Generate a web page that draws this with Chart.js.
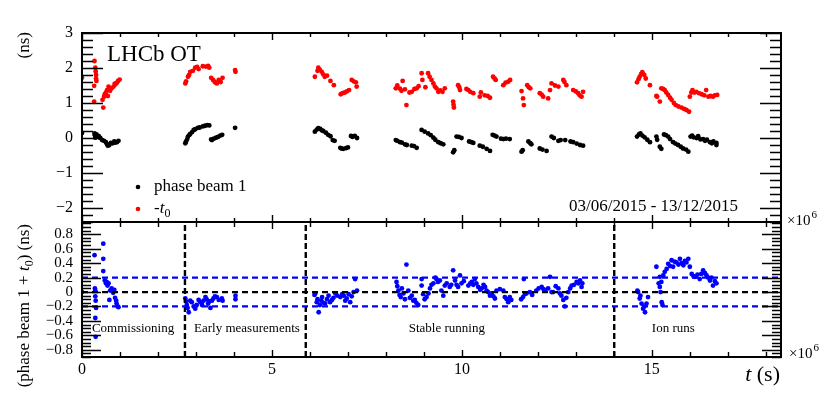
<!DOCTYPE html>
<html>
<head>
<meta charset="utf-8">
<script src="https://cdn.jsdelivr.net/npm/chart.js@4/dist/chart.umd.min.js"></script>
<style>
  html, body { margin: 0; padding: 0; background: #fff; }
  #wrap { position: relative; width: 822px; height: 396px; }
  canvas { position: absolute; left: 0; top: 0; }
</style>
</head>
<body>
<div id="wrap">
  <canvas id="topPanel" width="822" height="396"></canvas>
  <canvas id="bottomPanel" width="822" height="396"></canvas>
</div>
<script>
// time axis in units of 1e6 s
const xMin = 0, xMax = 18.4;
const xLabelTicks = [0, 5, 10, 15];
const topRange = [-2.4, 3];
const bottomRange = [-0.9, 0.97];
const bandLevels = [0.2, 0, -0.2];
const bandColors = ['#0000ff', '#000000', '#0000ff'];
const periodEdges = [2.71, 5.89, 14.01];
const periodNames = ['Commissioning', 'Early measurements', 'Stable running', 'Ion runs'];
const periodLabelX = [0.26, 2.95, 8.6, 15.0];

// phase beam 1 (ns)
const phaseBeam1 = [
  [0.0,0.14],
  [0.33,0.13],[0.34,0.08],[0.35,0.01],[0.38,0.1],[0.42,0.06],[0.44,0.05],[0.48,0.0],[0.53,-0.06],[0.58,-0.08],
  [0.63,-0.12],[0.66,-0.18],[0.68,-0.22],[0.72,-0.2],[0.76,-0.14],[0.81,-0.15],[0.85,-0.1],[0.88,-0.13],[0.92,-0.12],[0.96,-0.08],
  [2.72,-0.15],[2.74,-0.1],[2.77,-0.03],[2.79,0.04],[2.83,0.09],[2.85,0.12],[2.9,0.17],[2.94,0.23],[2.98,0.25],[3.05,0.29],
  [3.1,0.3],[3.18,0.33],[3.24,0.35],[3.3,0.37],[3.35,0.36],[3.4,-0.04],[3.42,-0.06],[3.47,-0.02],[3.53,0.01],[3.58,0.03],
  [3.64,0.07],[3.69,0.09],[4.03,0.29],
  [6.13,0.18],[6.18,0.24],[6.22,0.28],[6.27,0.26],[6.31,0.22],[6.35,0.2],[6.42,0.15],[6.48,0.09],[6.54,0.05],[6.6,-0.06],
  [6.65,-0.08],[6.8,-0.28],[6.83,-0.3],[6.88,-0.31],[6.95,-0.29],[7.0,-0.27],[7.08,0.06],[7.12,0.03],[7.18,0.06],[7.24,0.0],
  [8.26,-0.06],[8.3,-0.08],[8.37,-0.12],[8.42,-0.13],[8.5,-0.18],[8.55,-0.2],[8.68,-0.22],[8.74,-0.23],[8.81,-0.28],[8.94,0.23],
  [9.02,0.18],[9.11,0.13],[9.18,0.08],[9.25,0.01],[9.3,-0.05],[9.38,-0.12],[9.44,-0.15],[9.51,-0.18],[9.77,-0.41],[9.8,-0.35],
  [9.86,0.04],[9.92,0.03],[9.99,0.0],[10.19,-0.1],[10.25,-0.12],[10.3,-0.14],[10.47,-0.22],[10.55,-0.25],[10.65,-0.31],[10.74,-0.37],
  [10.81,0.09],[10.86,0.07],[10.91,0.04],[11.03,-0.02],[11.09,-0.03],[11.16,-0.02],[11.26,-0.03],[11.57,-0.39],[11.6,-0.35],[11.75,-0.1],
  [11.8,-0.15],[11.83,-0.18],[12.05,-0.3],[12.12,-0.33],[12.23,-0.37],[12.36,0.04],[12.42,0.0],[12.54,-0.08],[12.6,-0.06],[12.72,-0.06],
  [12.86,-0.1],[12.93,-0.12],[13.02,-0.16],[13.11,-0.2],[13.19,-0.22],
  [14.61,0.04],[14.66,0.1],[14.7,0.13],[14.75,0.07],[14.81,0.02],[14.88,-0.05],[14.95,-0.12],[15.12,0.04],[15.14,-0.05],[15.21,-0.25],
  [15.25,-0.31],[15.32,0.1],[15.37,0.08],[15.43,0.04],[15.48,-0.03],[15.56,-0.12],[15.62,-0.16],[15.69,-0.2],[15.76,-0.25],[15.82,-0.3],
  [15.9,-0.33],[15.96,-0.39],[16.02,0.04],[16.06,0.07],[16.1,0.02],[16.18,0.0],[16.22,0.05],[16.28,-0.04],[16.35,-0.03],[16.4,-0.08],
  [16.45,-0.05],[16.53,-0.12],[16.58,-0.15],[16.62,-0.1],[16.7,-0.2],[16.7,-0.14]
];

// -t0 (ns)
const minusT0 = [
  [0.0,1.72],[0.33,2.2],[0.35,2.01],[0.36,1.9],[0.37,1.8],[0.37,1.7],[0.38,1.63],[0.32,1.49],[0.32,1.04],[0.56,0.87],
  [0.54,1.09],[0.58,1.18],[0.6,1.25],[0.63,1.3],[0.66,1.37],[0.68,1.2],[0.7,1.47],[0.74,1.35],[0.78,1.42],[0.83,1.47],
  [0.86,1.55],[0.88,1.53],[0.92,1.58],[0.95,1.63],[0.99,1.67],
  [2.72,1.56],[2.74,1.62],[2.79,1.75],[2.82,1.8],[2.85,1.89],[2.92,1.92],[2.98,2.01],[3.03,2.03],[3.07,1.97],[3.18,2.05],
  [3.26,2.04],[3.32,2.06],[3.35,2.01],[3.4,1.72],[3.45,1.66],[3.49,1.61],[3.52,1.58],[3.55,1.56],[3.6,1.66],[3.65,1.6],
  [3.7,1.72],[4.03,1.94],[4.04,1.89],
  [6.13,1.75],[6.2,1.92],[6.22,2.01],[6.26,1.95],[6.31,1.89],[6.35,1.82],[6.39,1.75],[6.45,1.78],[6.54,1.63],[6.63,1.51],
  [6.81,1.25],[6.86,1.28],[6.92,1.3],[6.97,1.33],[7.03,1.37],[7.1,1.66],[7.15,1.62],[7.21,1.59],[7.23,1.47],
  [8.26,1.42],[8.3,1.5],[8.37,1.41],[8.41,1.35],[8.44,1.63],[8.5,1.39],[8.54,0.94],[8.62,1.3],[8.68,1.32],[8.75,1.4],
  [8.81,1.42],[8.86,1.48],[8.94,1.85],[8.96,1.66],[9.04,1.45],[9.11,1.85],[9.15,1.75],[9.2,1.66],[9.25,1.56],[9.29,1.47],
  [9.33,1.42],[9.38,1.32],[9.43,1.36],[9.49,1.32],[9.55,1.42],[9.77,1.04],[9.78,0.95],[9.79,0.87],[9.9,1.51],[9.93,1.45],
  [9.95,1.37],[10.12,1.4],[10.17,1.37],[10.22,1.32],[10.3,1.28],[10.47,1.18],[10.5,1.3],[10.6,1.22],[10.68,1.2],[10.74,1.15],
  [10.82,1.75],[10.86,1.7],[10.89,1.66],[11.09,1.51],[11.15,1.58],[11.22,1.61],[11.27,1.66],[11.57,1.34],[11.61,1.13],[11.63,0.94],
  [11.72,1.51],[11.76,1.45],[11.8,1.42],[12.05,1.28],[12.1,1.24],[12.14,1.18],[12.27,1.13],[12.32,1.37],[12.36,1.56],[12.45,1.5],
  [12.54,1.47],[12.67,1.66],[12.7,1.6],[12.75,1.51],[12.93,1.37],[13.0,1.33],[13.06,1.28],[13.1,1.22],[13.15,1.18],[13.19,1.32],
  [14.61,1.59],[14.65,1.68],[14.68,1.75],[14.72,1.83],[14.75,1.88],[14.8,1.8],[14.84,1.7],[14.95,1.51],[15.12,1.2],[15.14,1.18],
  [15.21,1.04],[15.25,1.42],[15.3,1.4],[15.34,1.37],[15.38,1.3],[15.43,1.23],[15.48,1.15],[15.52,1.09],[15.58,1.0],[15.63,0.94],
  [15.7,0.9],[15.78,0.87],[15.85,0.83],[15.91,0.8],[15.98,0.75],[16.0,1.18],[16.04,1.3],[16.07,1.37],[16.12,1.3],[16.17,1.32],
  [16.24,1.28],[16.31,1.25],[16.38,1.22],[16.43,1.37],[16.49,1.18],[16.55,1.2],[16.61,1.18],[16.66,1.22],[16.72,1.23]
];

// phase beam 1 + t0 (ns)
const phasePlusT0 = [
  [0.0,0.0],[0.33,0.51],[0.34,0.05],[0.35,0.02],[0.35,-0.06],[0.36,-0.12],[0.37,-0.22],[0.35,-0.36],[0.36,-0.62],[0.56,0.67],
  [0.56,0.46],[0.56,0.29],[0.6,0.16],[0.63,0.12],[0.65,0.14],[0.67,0.09],[0.7,0.12],[0.72,-0.11],[0.74,0.02],[0.78,0.05],
  [0.82,-0.01],[0.85,0.03],[0.87,-0.08],[0.9,-0.12],[0.91,-0.16],[0.94,-0.2],[0.96,-0.21],
  [2.72,-0.09],[2.74,-0.13],[2.76,-0.18],[2.78,-0.22],[2.81,-0.28],[2.85,-0.12],[2.89,-0.14],[2.94,-0.2],[2.98,-0.23],[3.02,-0.18],
  [3.07,-0.11],[3.12,-0.14],[3.16,-0.18],[3.2,-0.12],[3.25,-0.07],[3.28,-0.1],[3.32,-0.16],[3.35,-0.13],[3.38,-0.22],[3.42,-0.12],
  [3.46,-0.09],[3.5,-0.06],[3.55,-0.07],[3.6,-0.11],[3.68,-0.09],[3.7,-0.12],[4.04,-0.05],[4.04,-0.1],
  [6.12,-0.04],[6.14,-0.02],[6.18,-0.14],[6.2,-0.1],[6.23,-0.28],[6.26,-0.18],[6.3,-0.12],[6.32,-0.07],[6.36,-0.15],[6.4,-0.16],
  [6.45,-0.1],[6.49,-0.05],[6.53,-0.14],[6.58,-0.11],[6.62,-0.08],[6.67,-0.02],[6.72,-0.05],[6.8,-0.07],[6.85,-0.03],[6.89,-0.05],
  [6.93,-0.12],[6.97,-0.09],[7.02,-0.03],[7.06,-0.14],[7.1,-0.06],[7.15,0.0],[7.19,0.18],[7.24,0.02],
  [8.28,0.14],[8.3,0.08],[8.33,0.02],[8.36,-0.04],[8.39,-0.07],[8.42,0.05],[8.46,-0.02],[8.5,-0.1],[8.54,0.38],[8.59,0.02],
  [8.63,-0.08],[8.68,-0.05],[8.72,-0.12],[8.76,-0.11],[8.8,-0.15],[8.85,-0.18],[8.94,0.18],[8.94,0.09],[8.98,-0.03],[9.02,-0.1],
  [9.07,-0.07],[9.12,-0.02],[9.16,0.05],[9.2,0.1],[9.25,0.12],[9.3,0.2],[9.33,0.18],[9.37,0.14],[9.42,0.16],[9.46,0.02],
  [9.51,-0.05],[9.55,0.09],[9.6,0.12],[9.68,0.07],[9.72,0.1],[9.77,0.3],[9.82,0.16],[9.86,0.1],[9.9,0.07],[9.95,0.23],
  [9.99,0.12],[10.05,0.15],[10.17,0.09],[10.22,0.12],[10.26,0.14],[10.3,0.1],[10.34,0.18],[10.38,0.12],[10.43,0.07],[10.48,0.03],
  [10.52,0.05],[10.57,0.1],[10.61,0.07],[10.65,0.02],[10.69,0.0],[10.74,-0.05],[10.78,-0.02],[10.83,-0.06],[10.87,-0.09],[10.91,0.02],
  [11.0,0.04],[11.09,0.02],[11.13,-0.07],[11.18,-0.1],[11.22,-0.14],[11.26,-0.07],[11.3,-0.11],[11.56,-0.1],[11.61,-0.07],[11.63,0.18],
  [11.66,-0.03],[11.7,-0.02],[11.79,0.0],[11.85,-0.04],[11.96,0.02],[12.02,0.05],[12.1,0.07],[12.15,0.04],[12.19,0.02],[12.27,0.05],
  [12.32,0.21],[12.36,0.0],[12.4,0.0],[12.47,0.08],[12.54,0.05],[12.58,-0.02],[12.62,-0.05],[12.67,-0.11],[12.71,-0.2],[12.75,-0.08],
  [12.8,0.0],[12.85,0.05],[12.89,0.09],[12.95,0.1],[13.02,0.14],[13.06,0.12],[13.11,0.16],[13.15,0.07],[13.17,0.12],
  [14.62,0.02],[14.64,0.0],[14.68,-0.09],[14.7,-0.05],[14.73,-0.16],[14.77,-0.23],[14.8,-0.2],[14.82,-0.28],[14.86,-0.16],[14.9,-0.07],
  [15.12,0.35],[15.18,0.12],[15.21,0.07],[15.21,0.21],[15.23,0.0],[15.25,0.14],[15.26,-0.14],[15.28,-0.18],[15.3,0.23],[15.34,0.28],
  [15.39,0.32],[15.43,0.39],[15.48,0.36],[15.52,0.44],[15.56,0.35],[15.6,0.42],[15.65,0.41],[15.7,0.38],[15.74,0.46],[15.78,0.4],
  [15.83,0.37],[15.87,0.43],[15.91,0.41],[15.96,0.46],[16.0,0.35],[16.05,0.25],[16.1,0.22],[16.14,0.21],[16.2,0.24],[16.26,0.18],
  [16.3,0.25],[16.35,0.3],[16.4,0.26],[16.44,0.23],[16.48,0.2],[16.53,0.16],[16.57,0.2],[16.61,0.09],[16.66,0.15],[16.7,0.12]
];

const SERIF = '"Liberation Serif", "DejaVu Serif", serif';
const toXY = arr => arr.map(([x, y]) => ({ x, y }));
const minus = s => String(s).replace('-', '\u2212');

// ROOT-style frame with inward ticks
function drawFrame(chart, o) {
  const { ctx, chartArea: a, scales: { x, y } } = chart;
  ctx.save();
  ctx.strokeStyle = '#000';
  ctx.lineWidth = 1.4;
  ctx.beginPath();
  for (let k = 0; k <= Math.floor(xMax); k++) {
    const px = Math.round(x.getPixelForValue(k)) + 0.5;
    const len = k % 5 === 0 ? o.xMajor : o.xMinor;
    ctx.moveTo(px, a.top); ctx.lineTo(px, a.top + len);
    ctx.moveTo(px, a.bottom); ctx.lineTo(px, a.bottom - len);
  }
  const k0 = Math.ceil(y.min / o.yStep - 1e-6), k1 = Math.floor(y.max / o.yStep + 1e-6);
  for (let k = k0; k <= k1; k++) {
    const py = Math.round(y.getPixelForValue(k * o.yStep)) + 0.5;
    const len = k % o.perMajor === 0 ? o.yMajor : o.yMinor;
    ctx.moveTo(a.left, py); ctx.lineTo(a.left + len, py);
    ctx.moveTo(a.right, py); ctx.lineTo(a.right - len, py);
  }
  ctx.stroke();
  ctx.lineWidth = 2;
  ctx.strokeRect(a.left, a.top, a.right - a.left, a.bottom - a.top);
  ctx.restore();
}

// draw a list of text runs; rotated = vertical (reading upward)
function drawRuns(ctx, runs, x, y, align, rotated) {
  ctx.save();
  ctx.translate(x, y);
  if (rotated) ctx.rotate(-Math.PI / 2);
  ctx.textBaseline = 'alphabetic';
  ctx.textAlign = 'left';
  ctx.fillStyle = '#000';
  let total = 0;
  runs.forEach(r => { ctx.font = r.font; total += ctx.measureText(r.text).width; });
  let cx = align === 'right' ? -total : 0;
  runs.forEach(r => {
    ctx.font = r.font;
    ctx.fillText(r.text, cx, r.dy || 0);
    cx += ctx.measureText(r.text).width;
  });
  ctx.restore();
}

function times10(ctx, x, y) {
  drawRuns(ctx, [{ text: '\u00d710', font: '15px ' + SERIF }], x, y);
  ctx.save();
  ctx.font = '15px ' + SERIF;
  const w = ctx.measureText('\u00d710').width;
  ctx.restore();
  drawRuns(ctx, [{ text: '6', font: '11px ' + SERIF }], x + w + 1, y - 7);
}

const topDecor = {
  id: 'topDecor',
  afterDatasetsDraw(chart) {
    drawFrame(chart, { xMajor: 7, xMinor: 4, yStep: 0.2, perMajor: 5, yMajor: 21, yMinor: 11 });
  },
  afterDraw(chart) {
    const ctx = chart.ctx;
    drawRuns(ctx, [{ text: 'LHCb OT', font: '23px ' + SERIF }], 107, 61);
    drawRuns(ctx, [{ text: '03/06/2015 - 13/12/2015', font: '17px ' + SERIF }], 738, 211, 'right');
    // legend
    ctx.save();
    ctx.fillStyle = '#000';
    ctx.beginPath(); ctx.arc(138, 187, 2.3, 0, Math.PI * 2); ctx.fill();
    ctx.fillStyle = '#ff0000';
    ctx.beginPath(); ctx.arc(138, 209, 2.3, 0, Math.PI * 2); ctx.fill();
    ctx.restore();
    drawRuns(ctx, [{ text: 'phase beam 1', font: '17px ' + SERIF }], 154, 191);
    drawRuns(ctx, [
      { text: '-', font: '17px ' + SERIF },
      { text: 't', font: 'italic 17px ' + SERIF },
      { text: '0', font: '12px ' + SERIF, dy: 4 }
    ], 154, 213);
    drawRuns(ctx, [{ text: '(ns)', font: '17px ' + SERIF }], 29, 32, 'right', true);
    times10(ctx, 787, 225);
  }
};

const bottomDecor = {
  id: 'bottomDecor',
  afterDatasetsDraw(chart) {
    drawFrame(chart, { xMajor: 7, xMinor: 5, yStep: 0.05, perMajor: 4, yMajor: 19, yMinor: 9 });
  },
  afterDraw(chart) {
    const ctx = chart.ctx;
    const x = chart.scales.x;
    periodNames.forEach((name, i) => {
      drawRuns(ctx, [{ text: name, font: '13px ' + SERIF }], x.getPixelForValue(periodLabelX[i]), 332);
    });
    drawRuns(ctx, [
      { text: '(phase beam 1 + ', font: '17px ' + SERIF },
      { text: 't', font: 'italic 17px ' + SERIF },
      { text: '0', font: '12px ' + SERIF, dy: 4 },
      { text: ') (ns)', font: '17px ' + SERIF }
    ], 29, 224, 'right', true);
    drawRuns(ctx, [
      { text: 't', font: 'italic 22px ' + SERIF },
      { text: ' (s)', font: '22px ' + SERIF }
    ], 780, 381, 'right');
    times10(ctx, 789, 358);
  }
};

const pointStyle = color => ({
  type: 'scatter', backgroundColor: color, borderColor: color,
  pointRadius: 2.4, pointBorderWidth: 0, pointHoverRadius: 2.4
});

new Chart(document.getElementById('topPanel'), {
  data: {
    datasets: [
      { label: 'phase beam 1', data: toXY(phaseBeam1), ...pointStyle('#000000') },
      { label: '-t0', data: toXY(minusT0), ...pointStyle('#ff0000') }
    ]
  },
  options: {
    responsive: false, animation: false,
    layout: { padding: { top: 33, right: 41, bottom: 174, left: 0 } },
    plugins: { legend: { display: false }, tooltip: { enabled: false } },
    scales: {
      x: { type: 'linear', min: xMin, max: xMax, display: false },
      y: {
        type: 'linear', min: topRange[0], max: topRange[1],
        afterFit: s => { s.width = 82; },
        grid: { display: false, drawTicks: false }, border: { display: false },
        ticks: { stepSize: 1, includeBounds: false, autoSkip: false, padding: 9, color: '#000',
                 font: { family: SERIF, size: 16 }, callback: v => minus(v) }
      }
    }
  },
  plugins: [topDecor]
});

const refLines = [
  ...bandLevels.map((lvl, i) => ({
    type: 'line', data: [{ x: xMin, y: lvl }, { x: xMax, y: lvl }],
    borderColor: bandColors[i], borderWidth: 2.2, borderDash: [6, 4], pointRadius: 0, order: 0
  })),
  ...periodEdges.map(e => ({
    type: 'line', data: [{ x: e, y: bottomRange[0] }, { x: e, y: bottomRange[1] }],
    borderColor: '#000000', borderWidth: 2.4, borderDash: [6, 3], pointRadius: 0, order: 0
  }))
];

new Chart(document.getElementById('bottomPanel'), {
  data: {
    datasets: [
      ...refLines,
      { label: 'phase beam 1 + t0', data: toXY(phasePlusT0), order: 1, ...pointStyle('#0000ff') }
    ]
  },
  options: {
    responsive: false, animation: false,
    layout: { padding: { top: 222, right: 41, bottom: 0, left: 0 } },
    plugins: { legend: { display: false }, tooltip: { enabled: false } },
    scales: {
      x: {
        type: 'linear', min: xMin, max: xMax,
        afterFit: s => { s.height = 39; },
        afterBuildTicks: s => { s.ticks = xLabelTicks.map(v => ({ value: v })); },
        grid: { display: false, drawTicks: false }, border: { display: false },
        ticks: { padding: 3, autoSkip: false, color: '#000', font: { family: SERIF, size: 16 }, maxRotation: 0,
                 callback: v => String(v) }
      },
      y: {
        type: 'linear', min: bottomRange[0], max: bottomRange[1],
        afterFit: s => { s.width = 82; },
        grid: { display: false, drawTicks: false }, border: { display: false },
        ticks: { stepSize: 0.2, includeBounds: false, autoSkip: false, padding: 9, color: '#000',
                 font: { family: SERIF, size: 15 },
                 callback: v => Math.abs(v) < 1e-9 ? '0' : minus(v.toFixed(1)) }
      }
    }
  },
  plugins: [bottomDecor]
});
</script>
</body>
</html>
